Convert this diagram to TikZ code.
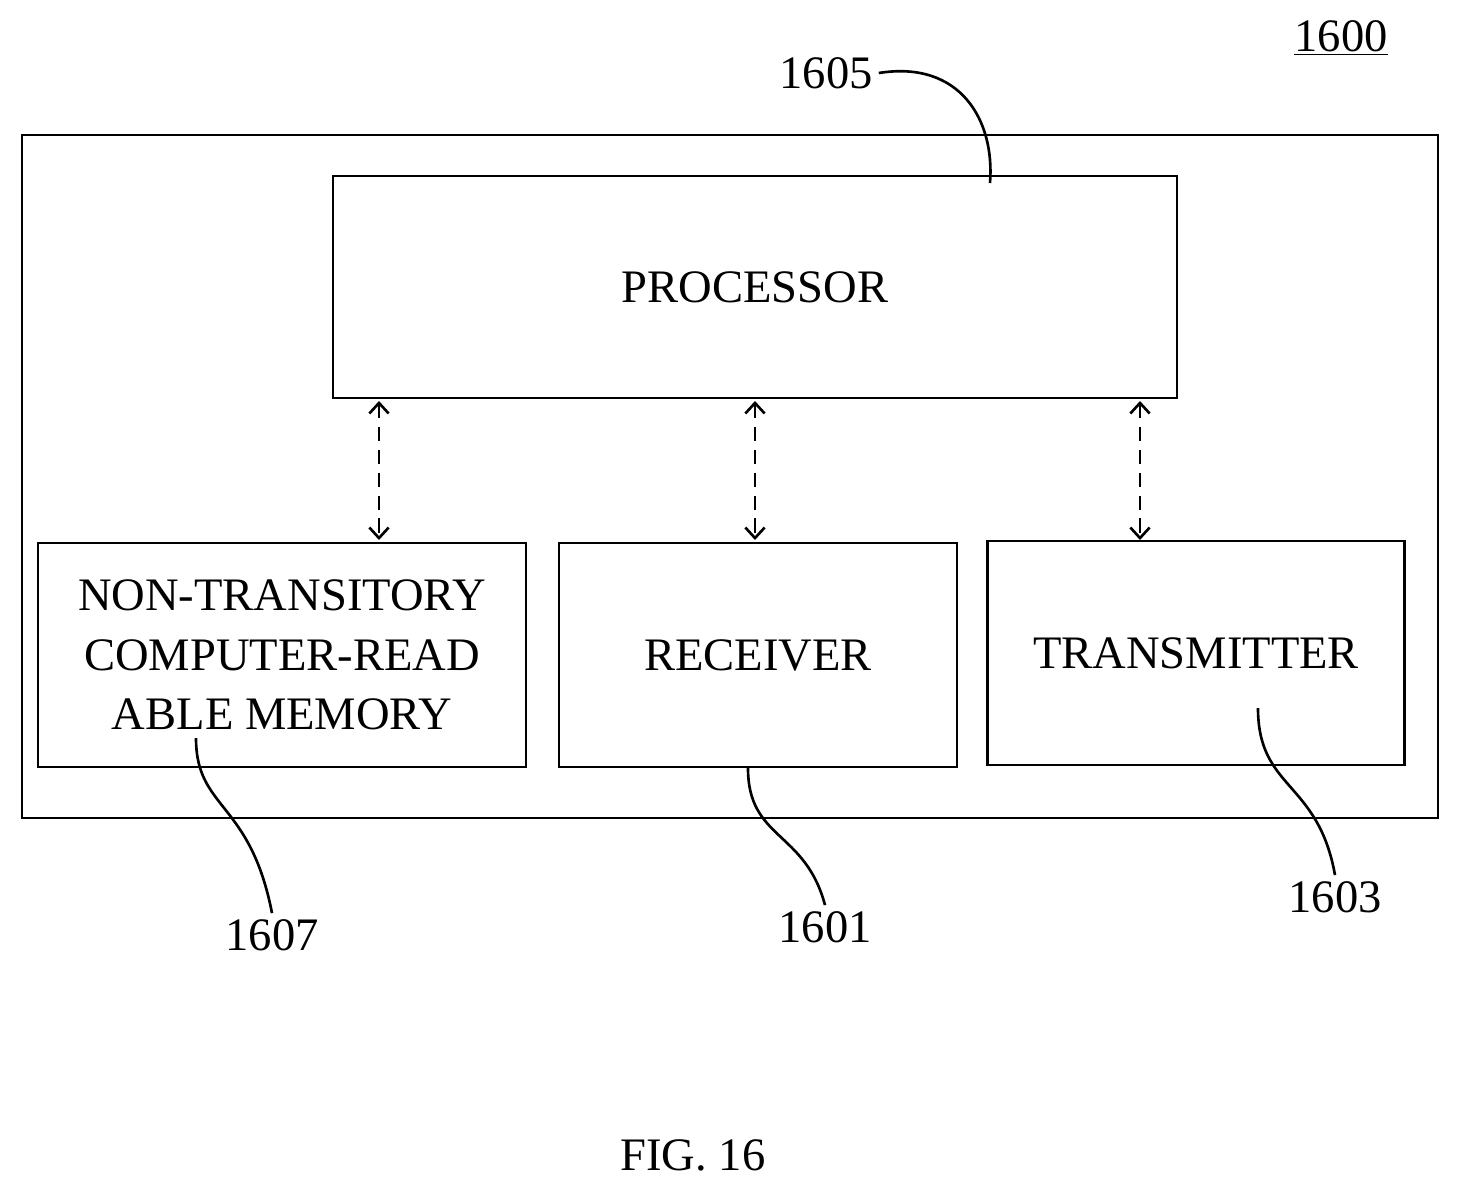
\documentclass[tikz,border=0pt]{standalone}
\usepackage{fontspec}
\setmainfont{Liberation Serif}
\usetikzlibrary{arrows.meta}
\tikzstyle{block}=[draw, line width=1.5pt, align=center, font=\fontsize{26.5}{34}\selectfont]
\tikzstyle{link}=[{Straight Barb[width=11pt,length=6pt]}-{Straight Barb[width=11pt,length=6pt]}, dash pattern=on 8pt off 5pt, line width=1.5pt]
\tikzstyle{lead}=[line width=1.5pt]
\tikzstyle{refnum}=[font=\fontsize{26.5}{32}\selectfont]

\begin{document}
\begin{tikzpicture}[x=0.02cm, y=-0.02cm]
      \useasboundingbox (0,0) rectangle (1461,1191);

      \draw[lead] (22,135) rectangle (1438,818);
      \node[block, minimum width=844*0.02cm, minimum height=222*0.02cm] (processor) at (755,287) {PROCESSOR};
      \node[block, minimum width=488*0.02cm, minimum height=224*0.02cm] (memory) at (282,655) {NON-TRANSITORY\\COMPUTER-READ\\ABLE MEMORY};
      \node[block, minimum width=398*0.02cm, minimum height=224*0.02cm] (receiver) at (758,655) {RECEIVER};
      \node[block, minimum width=417*0.02cm, minimum height=224*0.02cm] (transmitter) at (1196,653) {TRANSMITTER};

      \node[refnum] (n1600) at (1341,38) {\underline{1600}};
      \node[refnum] (n1605) at (826,73) {1605};
      \node[refnum] (n1607) at (272,935) {1607};
      \node[refnum] (n1601) at (825,927) {1601};
      \node[refnum] (n1603) at (1335,897) {1603};
      \node[refnum] (fig) at (693,1155) {FIG. 16};

      \foreach \x in {379, 755, 1140}{
        \draw[link] (\x,401) -- (\x,540);
      }

      \draw[lead] (n1605.east) .. controls (960,60) and (995,120) .. (990,183);
      \draw[lead] (196,738) .. controls (196,810) and (250,800) .. (n1607.north);
      \draw[lead] (748,768) .. controls (748,840) and (805,830) .. (n1601.north);
      \draw[lead] (1258,708) .. controls (1258,790) and (1318,780) .. (n1603.north);
\end{tikzpicture}
\end{document}
